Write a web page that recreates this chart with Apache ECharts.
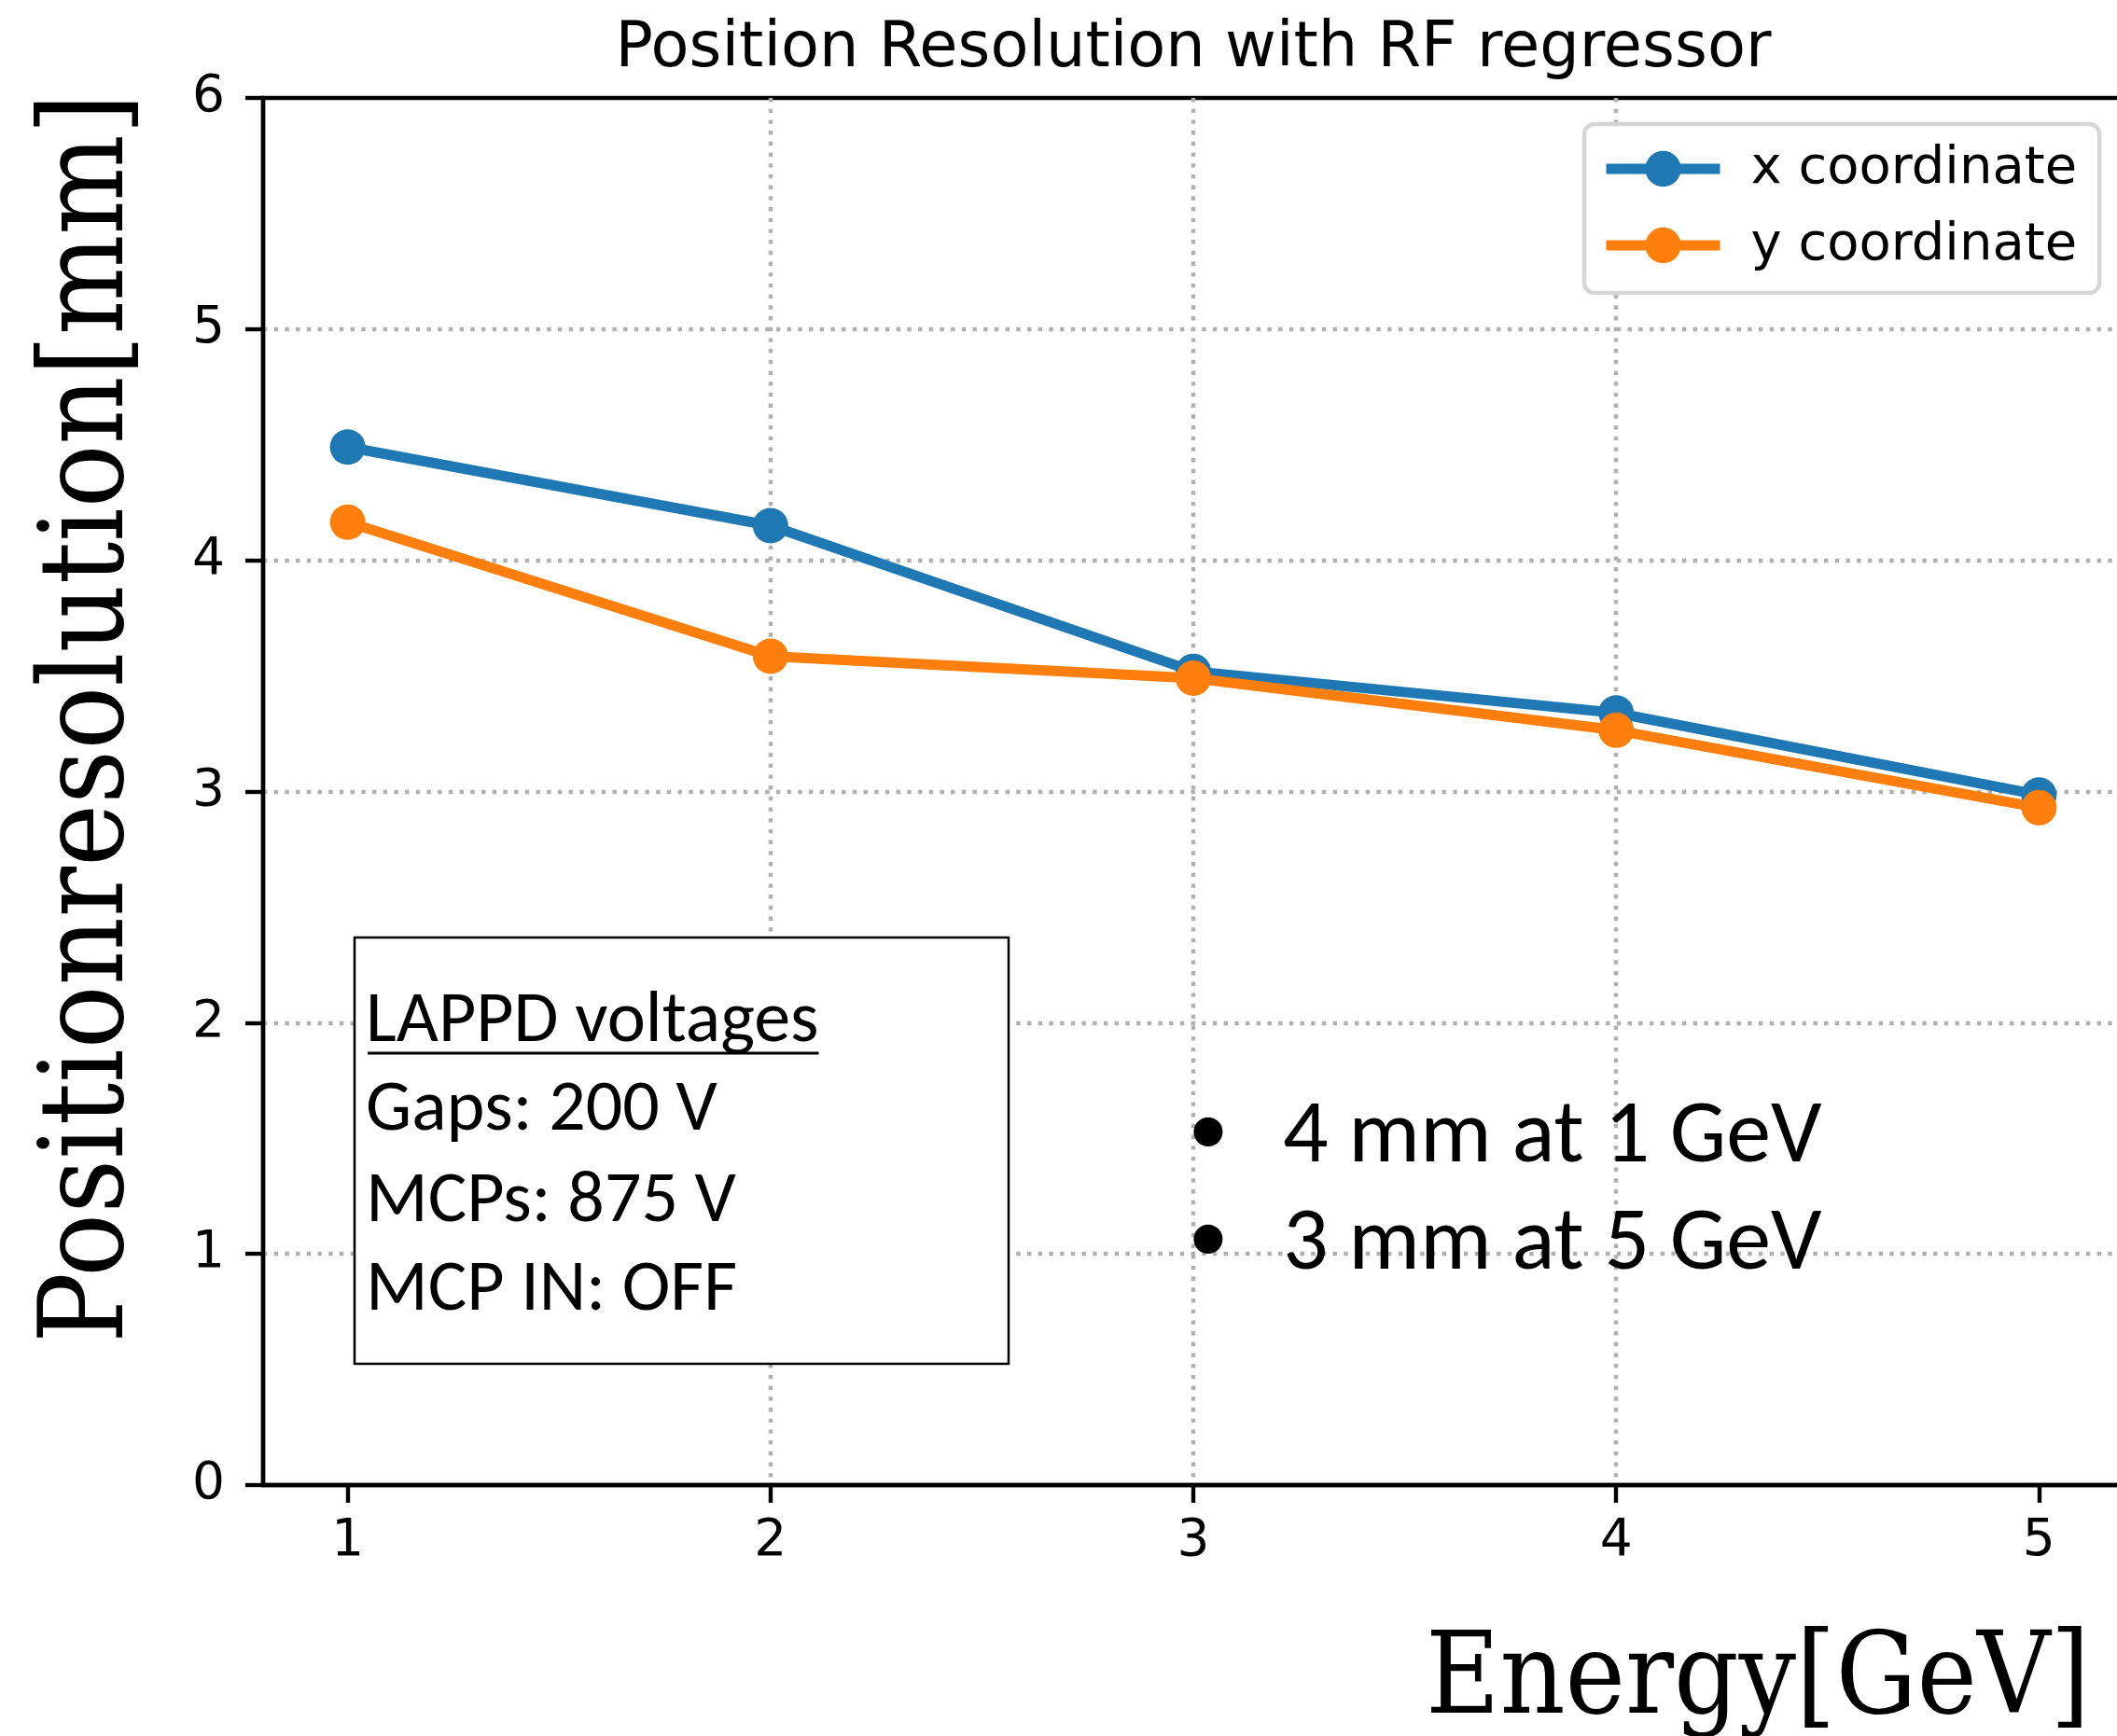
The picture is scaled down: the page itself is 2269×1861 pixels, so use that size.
<!DOCTYPE html>
<html>
<head>
<meta charset="utf-8">
<title>Position Resolution with RF regressor</title>
<script src="https://cdn.jsdelivr.net/npm/echarts@6/dist/echarts.min.js"></script>
<style>
  html, body { margin: 0; padding: 0; background: #ffffff; }
  #chart { width: 2269px; height: 1861px; }
</style>
</head>
<body>
<div id="chart"></div>
<script>
// Beam energy [GeV] and reconstructed position resolution [mm]
const energies = [1, 2, 3, 4, 5];
const xResolution = [4.49, 4.15, 3.52, 3.34, 2.985];
const yResolution = [4.165, 3.585, 3.49, 3.265, 2.93];

const seriesNames = ['x coordinate', 'y coordinate'];
const seriesColors = ['#1f77b4', '#ff7f0e'];
const xTicks = [1, 2, 3, 4, 5];

const chartTitle = 'Position Resolution with RF regressor';
const xTitle = 'Energy[GeV]';
const yTitle = 'Positionresolution[mm]';
const infoHeader = 'LAPPD voltages';
const infoLines = ['Gaps: 200 V', 'MCPs: 875 V', 'MCP IN: OFF'];
const highlights = ['4 mm at 1 GeV', '3 mm at 5 GeV'];

const SANS = '"DejaVu Sans", sans-serif';
const SERIF = '"DejaVu Serif Condensed", "DejaVu Serif", serif';
const NOTE = 'Carlito, Calibri, Lato, sans-serif';

const spineWidth = 4.4;
const gridDash = [4.4, 7.3];

function pairs(values) {
  return energies.map((e, i) => [e, values[i]]);
}

// width of the underlined header in the info box
function textWidth(text, font) {
  const ctx = document.createElement('canvas').getContext('2d');
  ctx.font = font;
  return ctx.measureText(text).width;
}

function label(x, y, text, font, align, extra) {
  return Object.assign({
    type: 'text', z: 11, x: x, y: y,
    style: { text: text, font: font, fill: '#000',
             align: align, verticalAlign: 'middle',
             textAlign: align, textVerticalAlign: 'middle' }
  }, extra || {});
}

const infoX = 392;
const headerFont = '78px ' + NOTE;
const headerWidth = textWidth(infoHeader, headerFont);

const graphics = [
  // info box
  { type: 'rect', z: 10, shape: { x: 380, y: 1005, width: 701, height: 457 },
    style: { fill: '#ffffff', stroke: '#000000', lineWidth: 2.5 } },
  label(infoX, 1096, infoHeader, headerFont, 'left'),
  { type: 'line', z: 11, shape: { x1: infoX + 2, y1: 1129, x2: infoX + headerWidth, y2: 1129 },
    style: { stroke: '#000', lineWidth: 3 } }
];
infoLines.forEach((line, i) => {
  graphics.push(label(infoX, [1191, 1289, 1384][i], line, '78px ' + NOTE, 'left'));
});
// bullet summary
highlights.forEach((line, i) => {
  const y = [1221, 1336][i];
  graphics.push(label(1295, y - 5, '\u2022', '88px ' + NOTE, 'center'));
  graphics.push(label(1375, y, line, '96px ' + NOTE, 'left'));
});
// axis titles
graphics.push(label(98, 770, yTitle, '126px ' + SERIF, 'center', { rotation: Math.PI / 2 }));
graphics.push(label(1884, 1805, xTitle, '121px ' + SERIF, 'center'));

const chart = echarts.init(document.getElementById('chart'), null, { renderer: 'canvas', width: 2269, height: 1861 });

chart.setOption({
  animation: false,
  backgroundColor: '#ffffff',
  textStyle: { fontFamily: SANS },
  title: {
    text: chartTitle,
    left: 1279, top: 20, textAlign: 'center', padding: 0,
    textStyle: { fontFamily: SANS, fontSize: 67, fontWeight: 'normal', color: '#000' }
  },
  grid: {
    left: 282, top: 105, width: 1994, height: 1487,
    outerBoundsMode: 'none', containLabel: false,
    show: true, borderColor: '#000', borderWidth: spineWidth, backgroundColor: 'transparent'
  },
  legend: {
    data: seriesNames,
    orient: 'vertical',
    left: 1698, top: 133,
    padding: [20, 24, 23, 18],
    itemWidth: 122, itemHeight: 48, itemGap: 26,
    backgroundColor: '#ffffff',
    borderColor: '#d6d6d6', borderWidth: 4.5, borderRadius: 11,
    selectedMode: false,
    lineStyle: { width: 11 },
    textStyle: { fontFamily: SANS, fontSize: 56, color: '#000', padding: [0, 0, 0, 28] }
  },
  xAxis: {
    type: 'value', min: 0.8, max: 5.2,
    axisLine: { show: true, onZero: false, lineStyle: { color: '#000', width: spineWidth } },
    axisTick: { show: true, length: 19, customValues: xTicks, lineStyle: { color: '#000', width: spineWidth } },
    axisLabel: { customValues: xTicks, margin: 33, fontSize: 55, color: '#000', fontFamily: SANS },
    splitLine: { show: true, showMinLine: false, showMaxLine: false,
                 lineStyle: { color: '#b0b0b0', width: spineWidth, type: gridDash } }
  },
  yAxis: {
    type: 'value', min: 0, max: 6, interval: 1,
    axisLine: { show: true, onZero: false, lineStyle: { color: '#000', width: spineWidth } },
    axisTick: { show: true, length: 19, lineStyle: { color: '#000', width: spineWidth } },
    axisLabel: { margin: 41, fontSize: 55, color: '#000', fontFamily: SANS },
    splitLine: { show: true, showMinLine: false, showMaxLine: false,
                 lineStyle: { color: '#b0b0b0', width: spineWidth, type: gridDash } }
  },
  series: [
    { name: seriesNames[0], type: 'line', z: 2, data: pairs(xResolution),
      symbol: 'circle', symbolSize: 38,
      lineStyle: { width: 11, color: seriesColors[0], join: 'round' },
      itemStyle: { color: seriesColors[0] }, emphasis: { disabled: true } },
    { name: seriesNames[1], type: 'line', z: 3, data: pairs(yResolution),
      symbol: 'circle', symbolSize: 38,
      lineStyle: { width: 11, color: seriesColors[1], join: 'round' },
      itemStyle: { color: seriesColors[1] }, emphasis: { disabled: true } }
  ],
  graphic: graphics
});
</script>
</body>
</html>
